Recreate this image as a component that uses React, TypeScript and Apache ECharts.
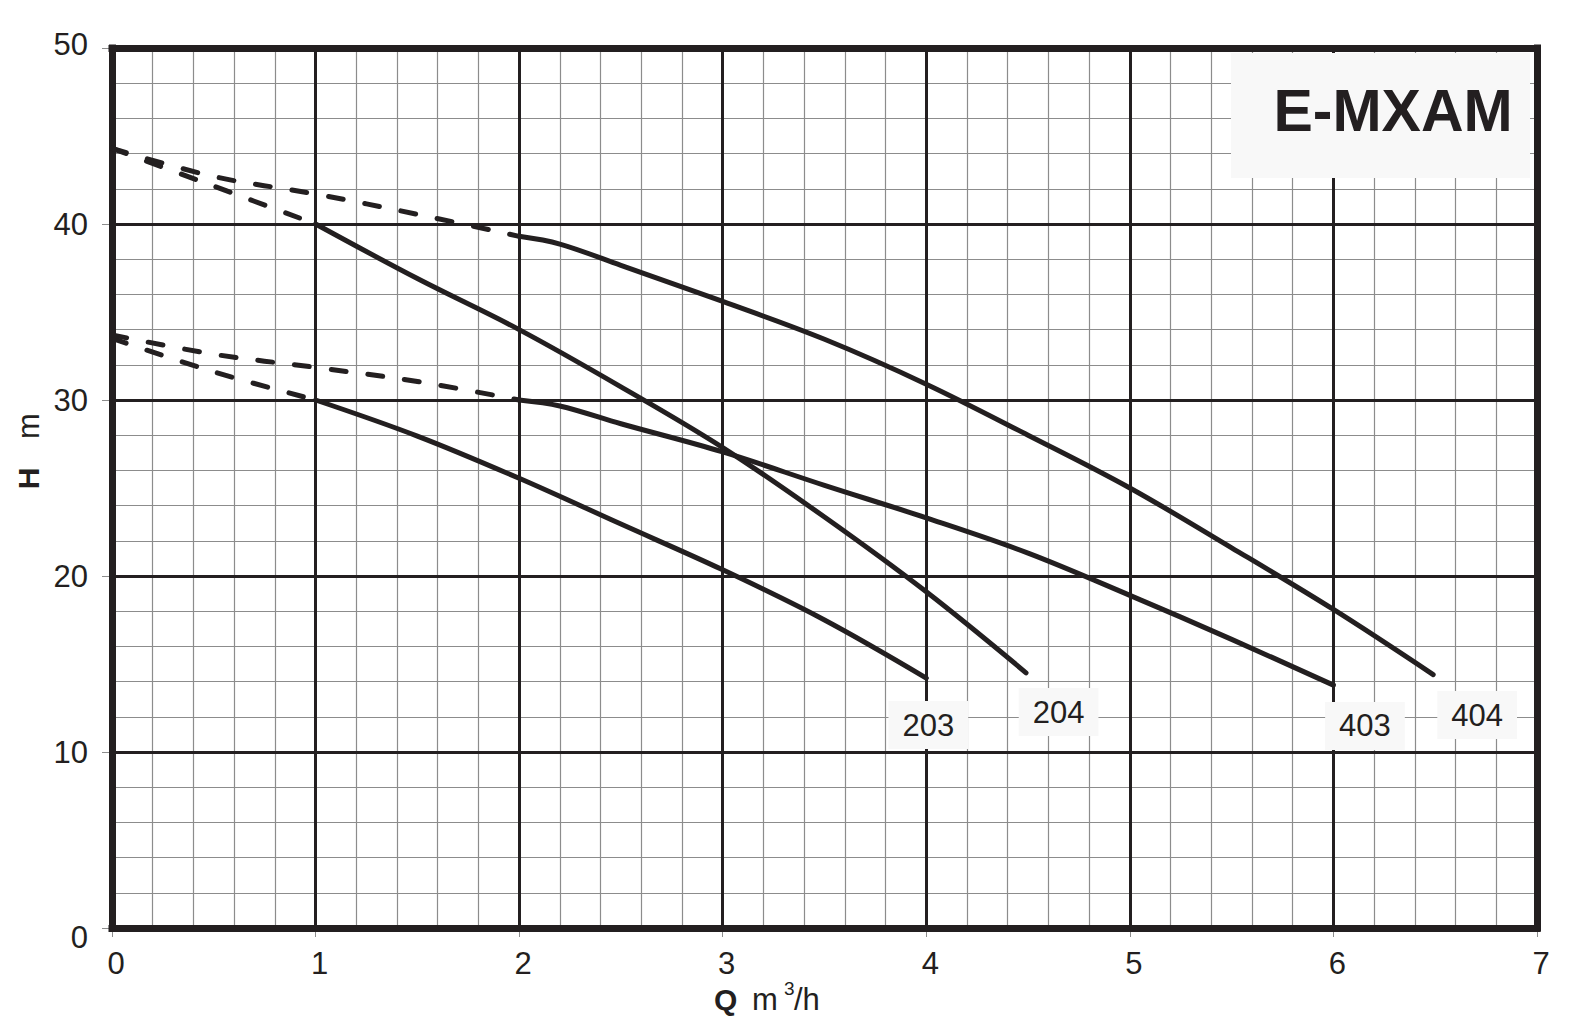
import { useEffect, useRef } from "react";
import * as echarts from "echarts";

const INK = "#231f20";
const FONT = "'Liberation Sans', Arial, Helvetica, sans-serif";

// x: Q (m³/h), y: H (m)
const xTicks = [0, 1, 2, 3, 4, 5, 6, 7];
const yTicks = [0, 10, 20, 30, 40, 50];

const curve203Dashed = [[0, 33.5], [0.5, 31.6], [1, 30]];
const curve203 = [[1, 30], [1.5, 27.95], [2, 25.55], [2.5, 22.95], [3, 20.35], [3.5, 17.5], [4, 14.2]];

const curve204Dashed = [[0, 44.3], [0.5, 42.15], [1, 40]];
const curve204 = [[1, 40], [1.5, 36.9], [2, 34.0], [2.5, 30.75], [3, 27.3], [3.5, 23.35], [4, 19.1], [4.49, 14.5]];

const curve403Dashed = [[0, 33.7], [0.5, 32.6], [1, 31.85], [1.5, 31.05], [2, 30]];
const curve403 = [[2, 30], [2.2, 29.66], [2.5, 28.65], [3, 27.05], [3.5, 25.15], [4, 23.3], [4.5, 21.3], [5, 18.9], [5.5, 16.4], [6, 13.8]];

const curve404Dashed = [[0, 44.3], [0.5, 42.7], [1, 41.7], [1.5, 40.55], [2, 39.3]];
const curve404 = [[2, 39.3], [2.2, 38.86], [2.5, 37.65], [3, 35.6], [3.5, 33.45], [4, 30.9], [4.5, 28.0], [5, 25.0], [5.5, 21.6], [6, 18.1], [6.49, 14.4]];

const curveNames = ["203", "204", "403", "404"];
const curveLabelPos = [[4.01, 11.53], [4.65, 12.27], [6.155, 11.48], [6.706, 12.1]];

const title = "E-MXAM";

function solid(name: string, data: number[][]) {
  return {
    name,
    type: "line",
    data,
    z: 5,
    smooth: 0.35,
    showSymbol: false,
    symbol: "none",
    silent: true,
    lineStyle: { color: INK, width: 5, cap: "round", join: "round" },
  };
}
function dashed(name: string, data: number[][]) {
  return {
    name,
    type: "line",
    data,
    z: 5,
    smooth: 0.35,
    showSymbol: false,
    symbol: "none",
    silent: true,
    lineStyle: { color: INK, width: 5, type: [15, 22], cap: "round", join: "round" },
  };
}

export default function App() {
  const ref = useRef<HTMLDivElement>(null);
  useEffect(() => {
    if (!ref.current) return;
    const chart = echarts.init(ref.current, undefined, { renderer: "svg" });
    const inner = { type: "solid", width: 3, color: INK };
    const frame = { type: "solid", width: 7, color: INK, cap: "square" };
    const markData: any[] = [];
    xTicks.forEach((x) => {
      const edge = x === xTicks[0] || x === xTicks[xTicks.length - 1];
      markData.push({ xAxis: x, lineStyle: edge ? frame : inner });
    });
    yTicks.forEach((y) => {
      const edge = y === yTicks[0] || y === yTicks[yTicks.length - 1];
      markData.push({ yAxis: y, lineStyle: edge ? frame : inner });
    });

    const option: any = {
      animation: false,
      backgroundColor: "#ffffff",
      textStyle: { fontFamily: FONT },
      grid: { left: 112, right: 45, top: 48, bottom: 95, show: false },
      xAxis: {
        type: "value",
        min: 0,
        max: 7,
        interval: 1,
        axisLine: { show: false },
        axisTick: { show: true, length: 9, lineStyle: { color: "#8c8c8c", width: 1 } },
        minorTick: { show: true, splitNumber: 5, length: 0, lineStyle: { color: "rgba(0,0,0,0)" } },
        minorSplitLine: { show: true, lineStyle: { color: "#8c8c8c", width: 1.2 } },
        splitLine: { show: false },
        axisLabel: { fontSize: 31, color: INK, fontFamily: FONT, margin: 20, padding: [0, 0, 0, 8] },
      },
      yAxis: {
        type: "value",
        min: 0,
        max: 50,
        interval: 10,
        axisLine: { show: false },
        axisTick: { show: true, length: 10, lineStyle: { color: "#8c8c8c", width: 1 } },
        minorTick: { show: true, splitNumber: 5, length: 0, lineStyle: { color: "rgba(0,0,0,0)" } },
        minorSplitLine: { show: true, lineStyle: { color: "#8c8c8c", width: 1.2 } },
        splitLine: { show: false },
        axisLabel: {
          fontSize: 31,
          color: INK,
          fontFamily: FONT,
          margin: 24,
          formatter: (v: number) => (v === 0 ? "{z|0}" : v === 50 ? "{t|50}" : String(v)),
          rich: {
            z: { fontSize: 31, color: INK, fontFamily: FONT, padding: [18, 0, 0, 0] },
            t: { fontSize: 31, color: INK, fontFamily: FONT, padding: [0, 0, 8, 0] },
          },
        },
      },
      series: [
        {
          name: "grid-major",
          type: "line",
          data: [],
          z: 4,
          silent: true,
          markLine: {
            silent: true,
            symbol: ["none", "none"],
            label: { show: false },
            emphasis: { disabled: true },
            data: markData,
          },
        },
        dashed("203 dashed", curve203Dashed),
        solid("203", curve203),
        dashed("204 dashed", curve204Dashed),
        solid("204", curve204),
        dashed("403 dashed", curve403Dashed),
        solid("403", curve403),
        dashed("404 dashed", curve404Dashed),
        solid("404", curve404),
        {
          name: "labels",
          type: "scatter",
          z: 10,
          silent: true,
          symbolSize: 0,
          itemStyle: { color: INK, opacity: 1 },
          data: curveLabelPos.map((p, i) => ({ value: p, name: curveNames[i] })),
          label: {
            show: true,
            position: "inside",
            formatter: "{b}",
            fontSize: 31,
            fontFamily: FONT,
            color: INK,
            opacity: 1,
            lineHeight: 32,
            backgroundColor: "#f8f8f8",
            padding: [8, 14, 8, 14],
          },
        },
      ],
      graphic: [
        {
          type: "rect",
          z: 100,
          shape: { x: 1231, y: 53, width: 299, height: 125 },
          style: { fill: "#f8f8f8" },
        },
        {
          type: "text",
          z: 101,
          x: 1393,
          y: 111,
          style: { text: title, fontSize: 59, fontWeight: "bold", fontFamily: FONT, fill: INK, align: "center", verticalAlign: "middle" },
        },
        {
          type: "text",
          z: 101,
          x: 714,
          y: 999,
          style: { text: "Q", fontSize: 30, fontWeight: "bold", fontFamily: FONT, fill: INK, align: "left", verticalAlign: "middle" },
        },
        {
          type: "text",
          z: 101,
          x: 752,
          y: 999,
          style: { text: "m", fontSize: 31, fontFamily: FONT, fill: INK, align: "left", verticalAlign: "middle" },
        },
        {
          type: "text",
          z: 101,
          x: 784,
          y: 988,
          style: { text: "3", fontSize: 19, fontFamily: FONT, fill: INK, align: "left", verticalAlign: "middle" },
        },
        {
          type: "text",
          z: 101,
          x: 794,
          y: 999,
          style: { text: "/h", fontSize: 31, fontFamily: FONT, fill: INK, align: "left", verticalAlign: "middle" },
        },
        {
          type: "text",
          z: 101,
          x: 28.5,
          y: 478.5,
          rotation: Math.PI / 2,
          style: { text: "H", fontSize: 30, fontWeight: "bold", fontFamily: FONT, fill: INK, align: "center", verticalAlign: "middle" },
        },
        {
          type: "text",
          z: 101,
          x: 28.5,
          y: 426,
          rotation: Math.PI / 2,
          style: { text: "m", fontSize: 31, fontFamily: FONT, fill: INK, align: "center", verticalAlign: "middle" },
        },
      ],
    };
    chart.setOption(option);
    return () => chart.dispose();
  }, []);
  return (
    <div
      ref={ref}
      style={{ position: "absolute", left: 0, top: 0, width: "1582px", height: "1023px", background: "#fff" }}
    />
  );
}
